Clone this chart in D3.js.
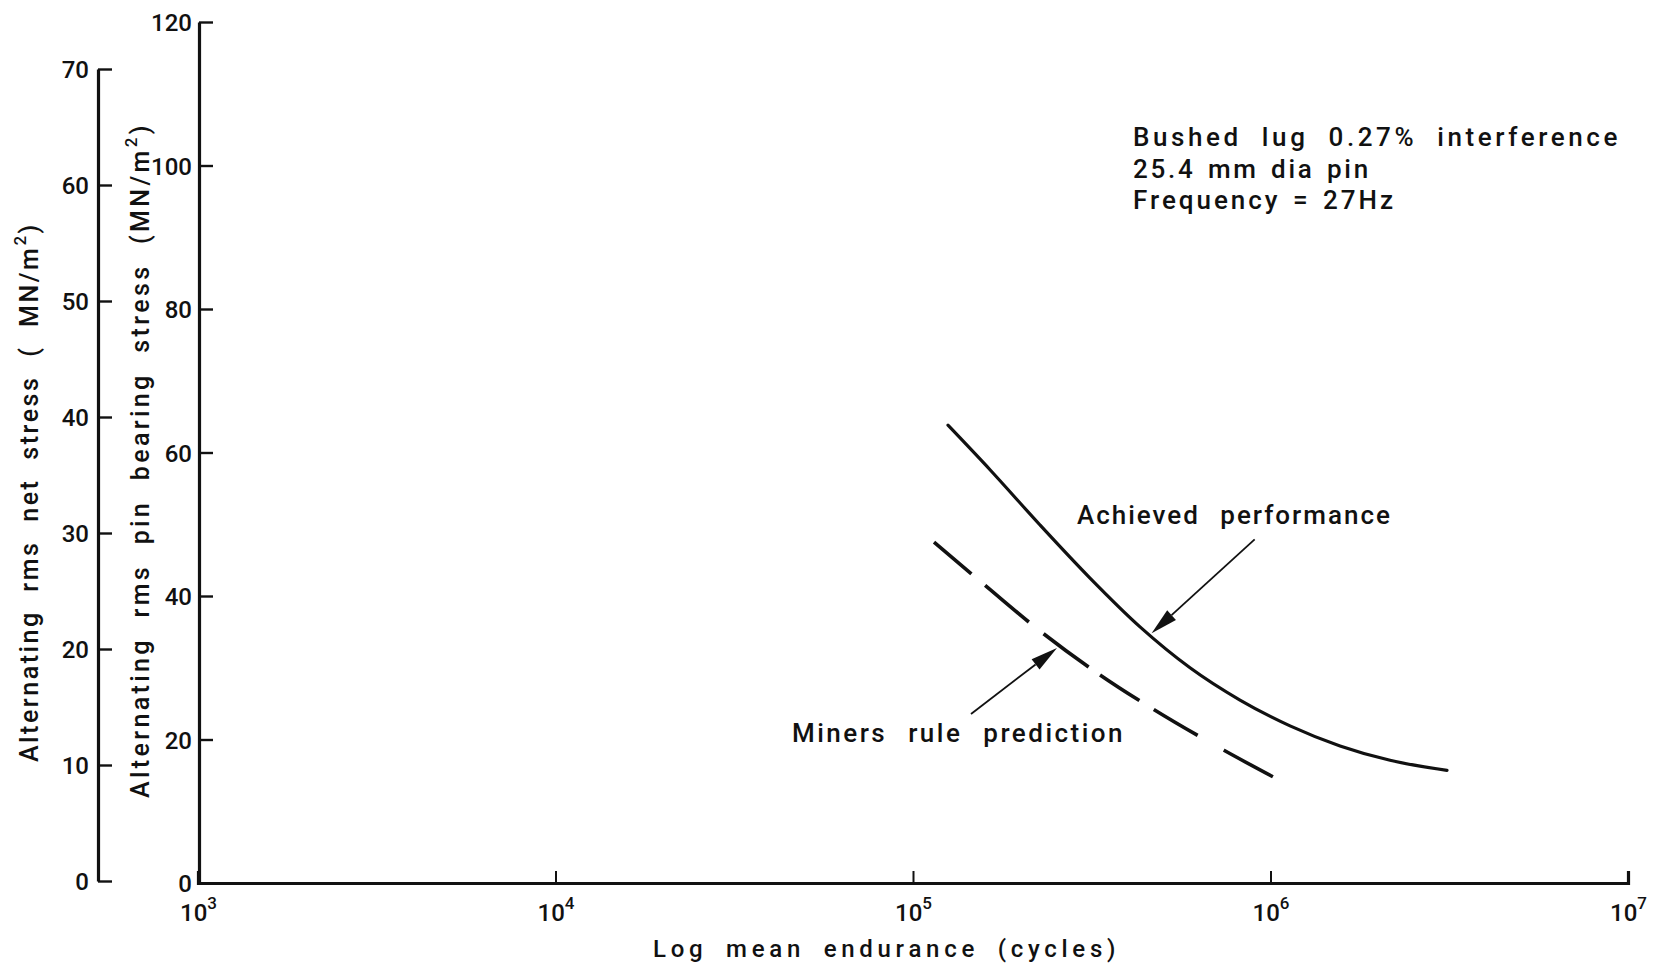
<!DOCTYPE html>
<html><head><meta charset="utf-8">
<script src="https://cdn.jsdelivr.net/npm/d3@7/dist/d3.min.js"></script>
<style>
html,body{margin:0;padding:0;background:#fff;}
svg{display:block;font-family:Roboto,"DejaVu Sans",sans-serif;font-weight:500;}
</style></head>
<body>
<svg id="chart" width="1663" height="972"></svg>
<script>
// ---- data ----
const xTicks = [1e3, 1e4, 1e5, 1e6, 1e7];
const xTickExp = ["3", "4", "5", "6", "7"];
const bearingTicks = [0, 20, 40, 60, 80, 100, 120];
const netTicks = [0, 10, 20, 30, 40, 50, 60, 70];

// Achieved performance (solid) : endurance cycles vs rms pin bearing stress
const achievedN = [1.253e5, 1.642e5, 2.266e5, 3.127e5, 4.315e5, 5.955e5, 8.215e5, 1.134e6, 1.565e6, 2.160e6, 3.117e6];
const achievedS = [63.8, 57.6, 49.9, 42.5, 35.7, 30.0, 25.5, 21.9, 19.1, 17.1, 15.7];

// Miners rule prediction (dashed)
const minersN = [1.145e5, 1.59e5, 2.31e5, 3.335e5, 4.69e5, 7.41e5, 1.016e6];
const minersS = [47.5, 41.5, 34.8, 29.0, 24.25, 18.5, 14.8];

// annotations (data coordinates)
const infoLines = ["Bushed lug 0.27% interference", "25.4 mm dia pin", "Frequency = 27Hz"];
const infoN = 4.125e5;
const infoS = [102.7, 98.3, 93.9];
const achievedLabel = {text: "Achieved performance", n: 2.875e5, s: 50.0};
const minersLabel = {text: "Miners rule prediction", n: 4.586e4, s: 19.65};
const achievedArrow = {from: [9.03e5, 47.9], to: [4.65e5, 34.8]};
const minersArrow = {from: [1.453e5, 23.55], to: [2.528e5, 32.75]};

// ---- drawing ----
const svg = d3.select("#chart");
const x = d3.scaleLog().domain([1e3, 1e7]).range([198, 1628]);
const yB = d3.scaleLinear().domain([0, 120]).range([883, 22]);
const yN = d3.scaleLinear().domain([0, 70]).range([881, 69]);
const innerX = 199, outerX = 98;
const ink = "#111";
const FONT = "Roboto, 'DejaVu Sans', sans-serif";

function fit(sel, target) {
  const node = sel.node();
  const n = node.getNumberOfChars();
  const L = node.getComputedTextLength();
  sel.attr("letter-spacing", ((target - L) / n).toFixed(2));
}

// x axis
const gx = svg.append("g").attr("transform", `translate(0,${yB(0)})`)
  .call(d3.axisBottom(x).tickValues(xTicks).tickSize(-12).tickFormat(""));
gx.select(".domain").attr("stroke", ink).attr("stroke-width", 3.2);
gx.selectAll(".tick line").attr("stroke", ink).attr("stroke-width", 2);
gx.selectAll(".tick text").remove();
gx.selectAll(".tick").each(function(d, i) {
  const t = d3.select(this).append("text").attr("y", 38).attr("text-anchor", "middle")
    .attr("fill", ink).attr("font-size", 24).attr("font-family", FONT).attr("font-weight", 500);
  t.append("tspan").text("10");
  t.append("tspan").attr("font-size", 17).attr("dy", -12).text(xTickExp[i]);
});

// inner y axis (bearing stress)
const gi = svg.append("g").attr("transform", `translate(${innerX},0)`)
  .call(d3.axisRight(yB).tickValues(bearingTicks).tickSize(14).tickSizeOuter(0).tickFormat(d3.format("d")));
gi.select(".domain").attr("stroke", ink).attr("stroke-width", 3.2);
gi.selectAll(".tick line").attr("stroke", ink).attr("stroke-width", 2.4)
  .attr("display", d => d === 0 ? "none" : null);
gi.selectAll(".tick text").attr("x", -7).attr("dy", "0.36em").attr("text-anchor", "end")
  .attr("font-size", 24).attr("fill", ink).attr("font-family", FONT).attr("font-weight", 500);

// outer y axis (net stress)
const go = svg.append("g").attr("transform", `translate(${outerX},0)`)
  .call(d3.axisRight(yN).tickValues(netTicks).tickSize(14).tickSizeOuter(0).tickFormat(d3.format("d")));
go.select(".domain").attr("stroke", ink).attr("stroke-width", 3.2);
go.selectAll(".tick line").attr("stroke", ink).attr("stroke-width", 2.4);
go.selectAll(".tick text").attr("x", -9).attr("dy", "0.36em").attr("text-anchor", "end")
  .attr("font-size", 24).attr("fill", ink).attr("font-family", FONT).attr("font-weight", 500);

// axis titles
const xt = svg.append("text").attr("x", 653).attr("y", 957).attr("font-size", 24)
  .attr("fill", ink).attr("word-spacing", 8).text("Log mean endurance (cycles)");
fit(xt, 467);

function yTitle(px, py, main, target) {
  const t = svg.append("text").attr("transform", `translate(${px},${py}) rotate(-90)`)
    .attr("font-size", 25).attr("fill", ink).attr("word-spacing", 10);
  t.append("tspan").text(main);
  t.append("tspan").attr("font-size", 17).attr("dy", -12).text("2");
  t.append("tspan").attr("dy", 12).text(")");
  fit(t, target);
}
yTitle(38, 762, "Alternating rms net stress ( MN/m", 540);
yTitle(149, 798, "Alternating rms pin bearing stress (MN/m", 676);

// curves
const line = d3.line().x(d => x(d[0])).y(d => yB(d[1])).curve(d3.curveMonotoneX);
svg.append("path").datum(achievedN.map((n, i) => [n, achievedS[i]]))
  .attr("d", line).attr("fill", "none").attr("stroke", ink).attr("stroke-width", 3.2)
  .attr("stroke-linecap", "round");
const dashPattern = [49, 18, 57, 19, 56, 14, 47, 17, 51, 30, 56];
const mp = svg.append("path").datum(minersN.map((n, i) => [n, minersS[i]]))
  .attr("d", line).attr("fill", "none").attr("stroke", ink).attr("stroke-width", 3.6);
const total = mp.node().getTotalLength();
const k = total / d3.sum(dashPattern);
mp.attr("stroke-dasharray", dashPattern.map(v => (v * k).toFixed(1)).join(",") + ",1000");

// arrows
function arrow(a) {
  const x1 = x(a.from[0]), y1 = yB(a.from[1]), x2 = x(a.to[0]), y2 = yB(a.to[1]);
  const ang = Math.atan2(y2 - y1, x2 - x1);
  const len = 27, hw = 6.5;
  const bx = x2 - len * Math.cos(ang), by = y2 - len * Math.sin(ang);
  svg.append("line").attr("x1", x1).attr("y1", y1).attr("x2", bx).attr("y2", by)
    .attr("stroke", ink).attr("stroke-width", 1.8);
  const px = -Math.sin(ang) * hw, py = Math.cos(ang) * hw;
  svg.append("path").attr("d", `M${x2},${y2}L${bx + px},${by + py}L${bx - px},${by - py}Z`).attr("fill", ink);
}
arrow(achievedArrow);
arrow(minersArrow);

// labels
const al = svg.append("text").attr("x", x(achievedLabel.n)).attr("y", yB(achievedLabel.s))
  .attr("font-size", 26).attr("fill", ink).attr("word-spacing", 12).text(achievedLabel.text);
fit(al, 315);
const ml = svg.append("text").attr("x", x(minersLabel.n)).attr("y", yB(minersLabel.s))
  .attr("font-size", 26).attr("fill", ink).attr("word-spacing", 12).text(minersLabel.text);
fit(ml, 333);
const infoW = [488, 238, 263];
infoLines.forEach((s, i) => {
  const t = svg.append("text").attr("x", x(infoN)).attr("y", yB(infoS[i]))
    .attr("font-size", 26).attr("fill", ink).attr("word-spacing", i === 0 ? 10 : 3).text(s);
  fit(t, infoW[i]);
});
</script>
</body></html>
